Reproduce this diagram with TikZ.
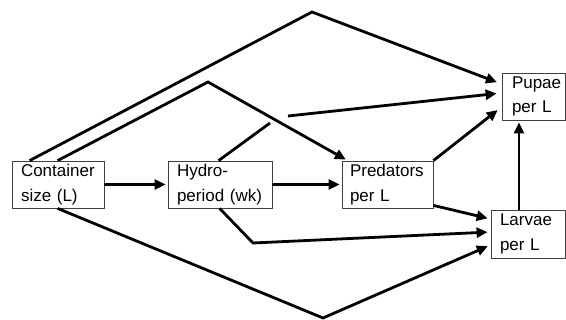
\documentclass[tikz,border=0pt]{standalone}
\usepackage{fontspec}
\setmainfont{Liberation Sans}
\usetikzlibrary{arrows.meta}
\begin{document}
\begin{tikzpicture}[x=1pt,y=-1pt,
  box/.style={draw=black!75, line width=0.8pt, minimum height=47pt, inner ysep=0pt,
    align=left, font=\fontsize{17}{20.5}\selectfont,
    execute at begin node={\vspace*{4pt}}},
  link/.style={line width=2.8pt, line join=miter},
  arr/.style={link, -{Triangle[length=11pt,width=10pt]}}]
\useasboundingbox (0,0) rectangle (566,320);
\node[box, minimum width=92pt, inner xsep=9pt, text width=74pt] (c) at (58,184.5) {Container\\size (L)};
\node[box, minimum width=104pt, inner xsep=9pt, text width=86pt] (h) at (220,184.5) {Hydro-\\period (wk)};
\node[box, minimum width=91pt, inner xsep=8pt, text width=75pt] (pr) at (387.5,184.5) {Predators\\per L};
\node[box, minimum width=63pt, inner xsep=10pt, text width=43pt] (pu) at (533.5,96.5) {Pupae\\per L};
\node[box, minimum width=74pt, minimum height=48pt, inner xsep=9pt, text width=56pt] (la) at (528,234) {Larvae\\per L};
\coordinate (t1) at (312,12);
\coordinate (t2) at (208,82);
\coordinate (g1) at (270,123);
\coordinate (g2) at (288,116);
\coordinate (b1) at (253,243);
\coordinate (b2) at (323,318);
% container -> pupae over the top
\draw[arr, shorten >=5pt] ([xshift=18pt]c.north west) -- (t1) -- ([yshift=12.5pt]pu.west);
% container -> predators
\draw[arr, shorten >=2pt] ([xshift=46pt]c.north west) -- (t2) -- ([xshift=6pt]pr.north west);
% hydroperiod -> pupae (with gap)
\draw[link] ([xshift=51pt]h.north west) -- (g1);
\draw[arr, shorten >=5pt] (g2) -- ([yshift=3.5pt]pu.west);
% container -> hydroperiod -> predators
\draw[arr, shorten >=2pt] (c.east) -- (h.west);
\draw[arr, shorten >=2pt] (h.east) -- (pr.west);
% hydroperiod -> larvae
\draw[arr, shorten >=3pt] ([xshift=52pt]h.south west) -- (b1) -- ([yshift=2pt]la.west);
% container -> larvae along the bottom
\draw[arr, shorten >=3pt] ([xshift=46pt]c.south west) -- (b2) -- ([yshift=-11pt]la.west);
% predators -> larvae, predators -> pupae
\draw[arr, shorten >=3pt] ([yshift=3pt]pr.south east) -- ([yshift=15pt]la.west);
\draw[arr, shorten >=5pt] (pr.north east) -- ([yshift=-10.5pt]pu.west);
% larvae -> pupae
\draw[arr, shorten >=2pt] ([xshift=-9pt]la.north) -- ([xshift=-14.5pt]pu.south);
\end{tikzpicture}
\end{document}
